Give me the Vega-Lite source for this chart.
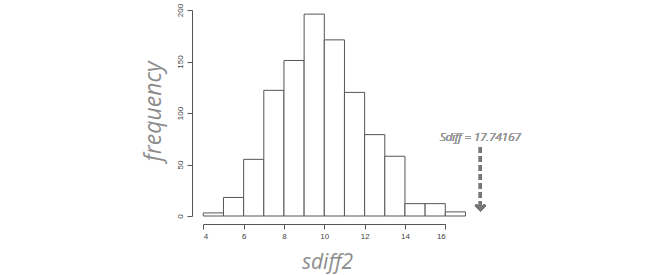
{
  "$schema": "https://vega.github.io/schema/vega-lite/v6.json",
  "autosize": {"type": "none"},
  "width": 300,
  "height": 206,
  "padding": {"left": 192, "top": 10, "right": 158, "bottom": 59},
  "background": "white",
  "config": {"view": {"stroke": null}},
  "data": {"values": [
    {"bin_start": 4, "bin_end": 5, "count": 3},
    {"bin_start": 5, "bin_end": 6, "count": 18},
    {"bin_start": 6, "bin_end": 7, "count": 55},
    {"bin_start": 7, "bin_end": 8, "count": 122},
    {"bin_start": 8, "bin_end": 9, "count": 151},
    {"bin_start": 9, "bin_end": 10, "count": 196},
    {"bin_start": 10, "bin_end": 11, "count": 171},
    {"bin_start": 11, "bin_end": 12, "count": 120},
    {"bin_start": 12, "bin_end": 13, "count": 79},
    {"bin_start": 13, "bin_end": 14, "count": 58},
    {"bin_start": 14, "bin_end": 15, "count": 12},
    {"bin_start": 15, "bin_end": 16, "count": 12},
    {"bin_start": 16, "bin_end": 17, "count": 4}
  ]},
  "layer": [
    {
      "mark": {"type": "rect", "fill": "white", "stroke": "#555555", "strokeWidth": 1, "clip": false},
      "encoding": {
        "x": {
          "field": "bin_start", "type": "quantitative",
          "scale": {"domain": [4, 16], "range": [11.3, 253.3], "zero": false, "nice": false},
          "axis": {
            "values": [4, 6, 8, 10, 12, 14, 16],
            "offset": 8,
            "grid": false,
            "domainColor": "#555555",
            "tickColor": "#555555",
            "tickSize": 5,
            "labelFont": "Liberation Sans",
            "labelFontSize": 8,
            "labelColor": "#444444",
            "labelPadding": 3,
            "title": "sdiff2",
            "titleFont": "Open Sans",
            "titleFontStyle": "italic",
            "titleFontWeight": "normal",
            "titleFontSize": 21,
            "titleColor": "#8c8c8c",
            "titleX": 135,
            "titleY": 38,
            "titleAnchor": null,
            "titleAlign": "center",
            "titleBaseline": "middle"
          }
        },
        "x2": {"field": "bin_end"},
        "y": {
          "field": "count", "type": "quantitative",
          "scale": {"domain": [0, 200], "nice": false},
          "axis": {
            "values": [0, 50, 100, 150, 200],
            "grid": false,
            "domainColor": "#555555",
            "tickColor": "#555555",
            "tickSize": 5,
            "labelAngle": 270,
            "labelAlign": "center",
            "labelBaseline": "bottom",
            "labelFont": "Liberation Sans",
            "labelFontSize": 8,
            "labelColor": "#444444",
            "labelPadding": 3,
            "title": "frequency",
            "titleFont": "Open Sans",
            "titleFontStyle": "italic",
            "titleFontWeight": "normal",
            "titleFontSize": 23,
            "titleColor": "#8c8c8c",
            "titleAngle": 270,
            "titleX": -39,
            "titleY": 101,
            "titleAnchor": null,
            "titleAlign": "center",
            "titleBaseline": "middle"
          }
        },
        "y2": {"datum": 0}
      }
    },
    {
      "mark": {"type": "rule", "stroke": "#777777", "strokeWidth": 3, "strokeDash": [6, 3], "clip": false},
      "encoding": {
        "x": {"datum": 17.74167, "type": "quantitative"},
        "y": {"datum": 67, "type": "quantitative"},
        "y2": {"datum": 8}
      }
    },
    {
      "mark": {"type": "point", "shape": "M-1,-0.6L0,0.4L1,-0.6", "filled": false, "fill": null, "stroke": "#777777", "strokeWidth": 2.5, "size": 90, "opacity": 1, "clip": false},
      "encoding": {
        "x": {"datum": 17.74167, "type": "quantitative"},
        "y": {"datum": 8, "type": "quantitative"}
      }
    },
    {
      "mark": {"type": "text", "text": "Sdiff = 17.74167", "font": "Open Sans", "fontStyle": "italic", "fontWeight": 300, "fontSize": 11.5, "fill": "#9a9a9a", "stroke": null, "opacity": 1, "align": "center", "baseline": "middle", "clip": false},
      "encoding": {
        "x": {"datum": 17.74167, "type": "quantitative"},
        "y": {"datum": 76, "type": "quantitative"}
      }
    }
  ]
}
